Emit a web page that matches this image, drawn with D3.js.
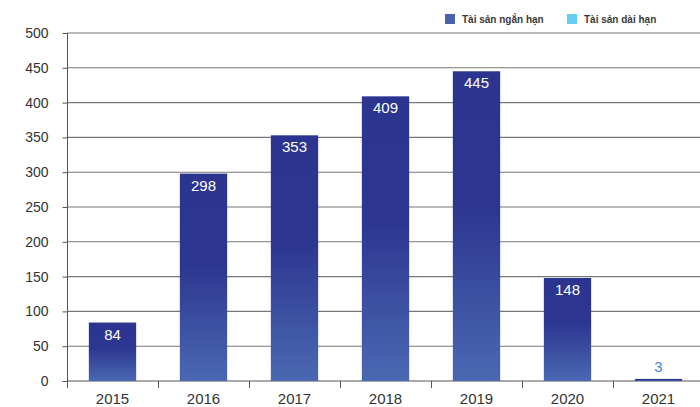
<!DOCTYPE html>
<html>
<head>
<meta charset="utf-8">
<script src="https://cdn.jsdelivr.net/npm/d3@7/dist/d3.min.js"></script>
<style>
  html, body { margin: 0; padding: 0; background: #fff; }
  svg { display: block; font-family: "Liberation Sans", Arial, sans-serif; }
</style>
</head>
<body>
<svg id="chart" width="700" height="407"></svg>
<script>
// Năm báo cáo
const years = ["2015", "2016", "2017", "2018", "2019", "2020", "2021"];
// Tài sản ngắn hạn
const shortTerm = [84, 298, 353, 409, 445, 148, 3];
// Tài sản dài hạn
const longTerm = [0, 0, 0, 0, 0, 0, 0];
// Trục tung
const yTicks = [0, 50, 100, 150, 200, 250, 300, 350, 400, 450, 500];
const seriesNames = ["Tài sản ngắn hạn", "Tài sản dài hạn"];
const seriesColors = ["#4a62b0", "#66cdf2"];

const svg = d3.select("#chart");
const plotLeft = 67, plotRight = 704, plotTop = 33, plotBottom = 381;

const x = d3.scaleBand().domain(years).range([plotLeft, plotRight]).paddingInner(0.48).paddingOuter(0.24);
const xb = d3.scaleBand().domain(years).range([plotLeft, plotRight]);
const y = d3.scaleLinear().domain([0, 500]).range([plotBottom, plotTop]);

// Gradient of the bars: dark upper half, lighter towards the base
const defs = svg.append("defs");
const grad = defs.append("linearGradient").attr("id", "barGrad")
  .attr("x1", 0).attr("y1", 0).attr("x2", 0).attr("y2", 1);
grad.append("stop").attr("offset", "0").attr("stop-color", "#2b3590");
grad.append("stop").attr("offset", "0.45").attr("stop-color", "#2d3791");
grad.append("stop").attr("offset", "1").attr("stop-color", "#4b68b2");

// Horizontal grid lines
svg.append("g").selectAll("line").data(yTicks.filter(d => d > 0)).join("line")
  .attr("x1", plotLeft).attr("x2", 700)
  .attr("y1", d => y(d)).attr("y2", d => y(d))
  .attr("stroke", "#777").attr("stroke-width", 1.1);

// Y axis
const yAxis = d3.axisLeft(y).tickValues(yTicks).tickSize(5).tickPadding(14);
const gy = svg.append("g").attr("transform", `translate(${plotLeft + 0.5},0)`).call(yAxis);
gy.select(".domain").attr("d", `M0,${plotTop}V${plotBottom + 7}`).attr("stroke", "#555");
gy.selectAll(".tick line").attr("stroke", "#555");
gy.selectAll(".tick text").attr("font-size", 14).attr("fill", "#333")
  .attr("font-family", "Liberation Sans, Arial, sans-serif");

// X axis baseline and separators between categories
svg.append("line").attr("x1", plotLeft).attr("x2", 700).attr("y1", plotBottom).attr("y2", plotBottom)
  .attr("stroke", "#555").attr("stroke-width", 1.2);
svg.append("g").selectAll("line").data(years.slice(1)).join("line")
  .attr("x1", d => Math.round(xb(d)) + 0.5).attr("x2", d => Math.round(xb(d)) + 0.5)
  .attr("y1", plotBottom).attr("y2", plotBottom + 7)
  .attr("stroke", "#555");
svg.append("g").selectAll("text").data(years).join("text")
  .attr("x", d => x(d) + x.bandwidth() / 2).attr("y", 403.5)
  .attr("text-anchor", "middle").attr("font-size", 15).attr("fill", "#333")
  .text(d => d);

// Stacked bars
const rows = years.map((yr, i) => ({ year: yr, s: shortTerm[i], l: longTerm[i] }));
const stack = d3.stack().keys(["s", "l"])(rows);
const fills = ["url(#barGrad)", seriesColors[1]];
svg.append("g").selectAll("g").data(stack).join("g")
  .attr("fill", (d, i) => fills[i])
  .selectAll("rect").data(d => d).join("rect")
  .attr("x", d => x(d.data.year)).attr("width", x.bandwidth())
  .attr("y", d => y(d[1])).attr("height", d => y(d[0]) - y(d[1]));

// Value labels: inside the bar, or above it when the bar is too short
svg.append("g").selectAll("text").data(rows).join("text")
  .attr("x", d => x(d.year) + x.bandwidth() / 2)
  .attr("y", d => (y(0) - y(d.s) > 25) ? y(d.s) + 17 : y(d.s) - 7)
  .attr("text-anchor", "middle").attr("font-size", 15)
  .attr("fill", d => (y(0) - y(d.s) > 25) ? "#ffffff" : "#4a80d6")
  .text(d => d.s);

// Legend
const legendX = [445, 567];
const lg = svg.append("g");
seriesNames.forEach((name, i) => {
  lg.append("rect").attr("x", legendX[i]).attr("y", 14).attr("width", 10).attr("height", 10)
    .attr("fill", seriesColors[i]);
  lg.append("text").attr("x", legendX[i] + 17).attr("y", 22.5)
    .attr("font-size", 10).attr("font-weight", "bold").attr("fill", "#3a3a3a")
    .text(name);
});
</script>
</body>
</html>
